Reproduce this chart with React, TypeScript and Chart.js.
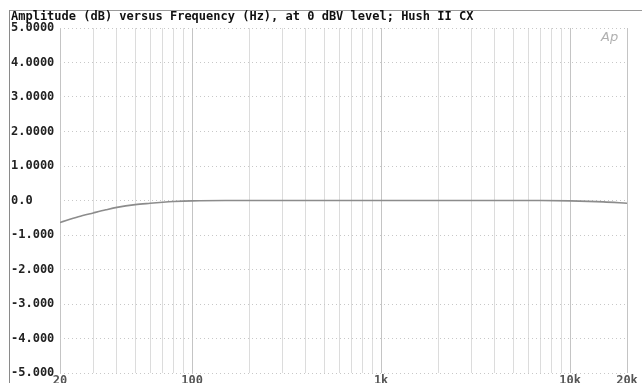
import React, { useEffect, useRef } from "react";
import { Chart, registerables } from "chart.js";

Chart.register(...registerables);

// ---- data ----
const freqHz = [20, 25, 30, 35, 40, 50, 60, 70, 80, 100, 150, 200, 300, 500, 700, 1000, 2000, 3000, 5000, 7000, 10000, 15000, 20000];
const amplitudeDb = [-0.64, -0.47, -0.36, -0.27, -0.2, -0.12, -0.08, -0.05, -0.03, -0.01, 0, 0, 0, 0, 0, 0, 0, 0, 0, 0, -0.01, -0.04, -0.08];

const xGridValues = [
  20, 30, 40, 50, 60, 70, 80, 90,
  100, 200, 300, 400, 500, 600, 700, 800, 900,
  1000, 2000, 3000, 4000, 5000, 6000, 7000, 8000, 9000,
  10000, 20000,
];
const xLabelValues = [20, 100, 1000, 10000, 20000];
const xLabelTexts = ["20", "100", "1k", "10k", "20k"];

const yTickValues = [-5, -4, -3, -2, -1, 0, 1, 2, 3, 4, 5];
const yTickLabels = ["-5.000", "-4.000", "-3.000", "-2.000", "-1.000", "0.0", "1.0000", "2.0000", "3.0000", "4.0000", "5.0000"];

const titleText = "Amplitude (dB) versus Frequency (Hz), at 0 dBV level; Hush II CX";
const logoText = "Ap";

const MONO = "'DejaVu Sans Mono', 'Liberation Mono', monospace";

const decorPlugin = {
  id: "decor",
  beforeDraw(chart: any) {
    const ctx = chart.ctx;
    ctx.save();
    ctx.fillStyle = "#ffffff";
    ctx.fillRect(0, 0, chart.width, chart.height);
    ctx.restore();
  },
  afterDraw(chart: any) {
    const ctx = chart.ctx;
    ctx.save();
    // frame lines
    ctx.strokeStyle = "#9a9a9a";
    ctx.lineWidth = 1;
    ctx.beginPath();
    ctx.moveTo(9, 10.5);
    ctx.lineTo(chart.width, 10.5);
    ctx.stroke();
    ctx.strokeStyle = "#8a8a8a";
    ctx.beginPath();
    ctx.moveTo(9.5, 10);
    ctx.lineTo(9.5, chart.height);
    ctx.stroke();
    // title
    ctx.fillStyle = "#111111";
    ctx.font = `bold 12px ${MONO}`;
    ctx.textBaseline = "middle";
    ctx.textAlign = "left";
    ctx.fillText(titleText, 11, 17);
    // logo
    ctx.fillStyle = "#b0b0b0";
    ctx.font = `italic 13px 'DejaVu Sans', sans-serif`;
    ctx.fillText(logoText, 601, 38);
    ctx.restore();
  },
};

export default function App() {
  const canvasRef = useRef<HTMLCanvasElement | null>(null);

  useEffect(() => {
    document.body.style.margin = "0";
    const canvas = canvasRef.current;
    if (!canvas) return;
    const chart = new Chart(canvas, {
      type: "line",
      data: {
        datasets: [
          {
            data: freqHz.map((f, i) => ({ x: f, y: amplitudeDb[i] })),
            borderColor: "#8c8c8c",
            borderWidth: 1.6,
            pointRadius: 0,
            cubicInterpolationMode: "monotone",
          },
        ],
      },
      options: {
        responsive: false,
        animation: false,
        layout: { padding: { left: 11, top: 28, right: 15, bottom: 0 } },
        plugins: {
          legend: { display: false },
          tooltip: { enabled: false },
          title: { display: false },
        },
        scales: {
          x: {
            type: "logarithmic",
            min: 20,
            max: 20000,
            afterBuildTicks: (scale: any) => {
              scale.ticks = xGridValues.map((v) => ({ value: v }));
            },
            afterFit: (scale: any) => {
              scale.height = 10;
            },
            ticks: {
              autoSkip: false,
              maxRotation: 0,
              minRotation: 0,
              padding: 1,
              color: "#555555",
              font: { family: MONO, size: 12, weight: "bold" },
              callback: (value: any) => {
                const idx = xLabelValues.indexOf(Number(value));
                return idx >= 0 ? xLabelTexts[idx] : "";
              },
            },
            grid: {
              drawTicks: false,
              color: (c: any) => {
                const v = c.tick ? c.tick.value : 0;
                return xLabelValues.includes(v) ? "#c4c4c4" : "#dcdcdc";
              },
              lineWidth: 1,
            },
            border: { display: false },
          },
          y: {
            type: "linear",
            min: -5,
            max: 5,
            afterBuildTicks: (scale: any) => {
              scale.ticks = yTickValues.map((v) => ({ value: v }));
            },
            afterFit: (scale: any) => {
              scale.width = 49;
            },
            ticks: {
              crossAlign: "far",
              padding: 0,
              color: "#222222",
              font: { family: MONO, size: 12, weight: "bold" },
              callback: (value: any) => {
                const idx = yTickValues.indexOf(Number(value));
                return idx >= 0 ? yTickLabels[idx] : "";
              },
            },
            grid: {
              drawTicks: false,
              color: "#c8c8c8",
              lineWidth: 1,
            },
            border: { display: false, dash: [1, 3] },
          },
        },
      },
      plugins: [decorPlugin],
    } as any);
    return () => chart.destroy();
  }, []);

  return (
    <div style={{ position: "fixed", left: 0, top: 0, width: 642, height: 383, background: "#fff" }}>
      <canvas ref={canvasRef} width={642} height={383} style={{ display: "block" }} />
    </div>
  );
}
